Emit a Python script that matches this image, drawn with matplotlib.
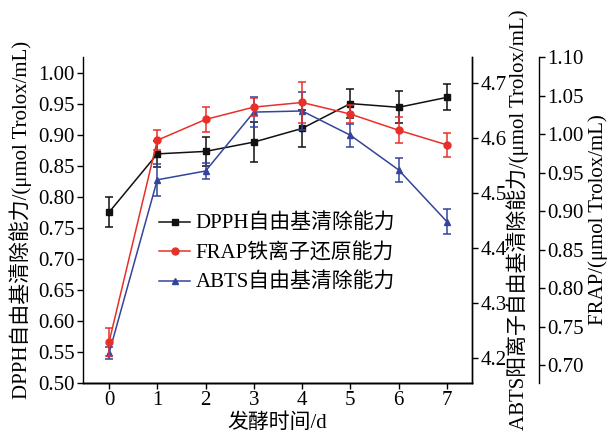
import numpy as np
import matplotlib
matplotlib.use("Agg")
import matplotlib.pyplot as plt

plt.rcParams['font.family'] = ['Liberation Serif', 'Noto Sans CJK SC']
plt.rcParams['font.size'] = 15

# data: fermentation days
days = [0, 1, 2, 3, 4, 5, 6, 7]

dpph = [0.775, 0.869, 0.873, 0.888, 0.910, 0.950, 0.944, 0.960]
dpph_err = [0.024, 0.021, 0.023, 0.032, 0.030, 0.024, 0.026, 0.021]

frap = [0.730, 0.992, 1.019, 1.035, 1.041, 1.026, 1.005, 0.986]
frap_err = [0.018, 0.013, 0.016, 0.012, 0.026, 0.012, 0.017, 0.016]

abts = [4.209, 4.524, 4.540, 4.647, 4.649, 4.605, 4.542, 4.448]
abts_err = [0.011, 0.029, 0.014, 0.027, 0.035, 0.021, 0.022, 0.023]

labels = ['DPPH自由基清除能力', 'FRAP铁离子还原能力', 'ABTS自由基清除能力']

BLACK = '#111111'
RED = '#e8302a'
BLUE = '#34449a'

fig = plt.figure(figsize=(6.07, 4.43), dpi=100)
ax = fig.add_axes([0.1367, 0.1354, 0.6409, 0.7359])
ax2 = ax.twinx()   # ABTS
ax3 = ax.twinx()   # FRAP

eb = dict(lw=1.1, elinewidth=1.1, capsize=3, capthick=1.1)
l1 = ax.errorbar(days, dpph, yerr=dpph_err, color=BLACK, marker='s', ms=4, **eb)
l3 = ax2.errorbar(days, abts, yerr=abts_err, color=BLUE, marker='^', ms=5, **eb)
l2 = ax3.errorbar(days, frap, yerr=frap_err, color=RED, marker='o', ms=5, **eb)

ax.set_xlim(-0.54, 7.52)
ax.set_ylim(0.5, 1.025)
ax.set_yticks(np.arange(0.50, 1.001, 0.05))
ax.set_yticklabels([f'{v:.2f}' for v in np.arange(0.50, 1.001, 0.05)])
ax.set_xticks(days)

ax2.set_ylim(4.155, 4.747)
ax2.set_yticks([4.2, 4.3, 4.4, 4.5, 4.6, 4.7])

ax3.set_ylim(0.677, 1.10)
ax3.set_yticks(np.arange(0.70, 1.101, 0.05))
ax3.set_yticklabels([f'{v:.2f}' for v in np.arange(0.70, 1.101, 0.05)])
ax3.spines['right'].set_position(('outward', 48))

for a in (ax, ax2, ax3):
    a.spines['top'].set_visible(False)
    a.tick_params(direction='out', length=4, width=1, pad=2)
    for s in a.spines.values():
        s.set_linewidth(1)
ax2.spines['left'].set_visible(False)
ax3.spines['left'].set_visible(False)

ax.set_xlabel('发酵时间/d', labelpad=2)
ax.set_ylabel('DPPH自由基清除能力/(μmol Trolox/mL)', labelpad=4)
ax2.set_ylabel('ABTS阳离子自由基清除能力/(μmol Trolox/mL)', labelpad=0)
ax3.set_ylabel('FRAP/(μmol Trolox/mL)', labelpad=3)

# legend shows only line + marker, no error bars
fig.legend([l1[0], l2[0], l3[0]], labels, loc='upper left', bbox_to_anchor=(0.245, 0.54),
           frameon=False, handlelength=1.5, handletextpad=0.25, labelspacing=0.45,
           borderpad=0, fontsize=15)

fig.savefig('out.png', dpi=100)
